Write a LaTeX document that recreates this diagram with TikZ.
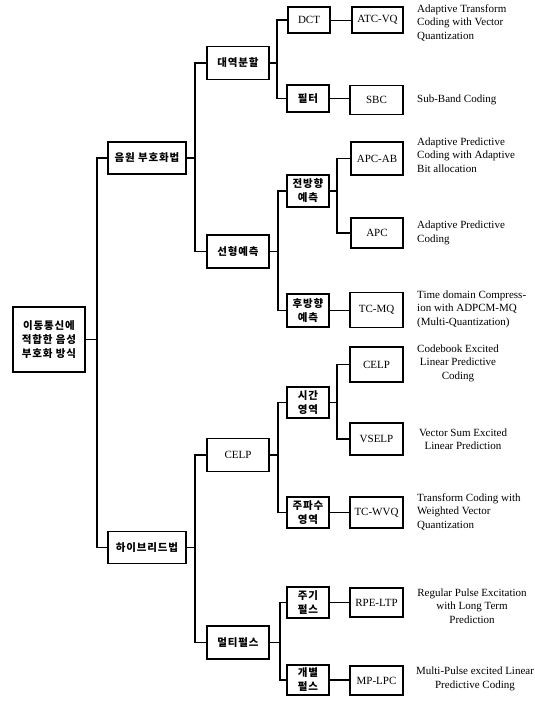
\documentclass[tikz,border=0pt]{standalone}
\usepackage{fontspec}
\setmainfont{Liberation Serif}
\newfontfamily\kr[LetterSpace=8]{Noto Sans CJK KR}
\newcommand\myfork[4]{%
  \coordinate (tmpspine) at (#4,0);
  \draw[conn] (#1.east) -- (#1.east -| tmpspine);
  \draw[conn] (#2.west) -- (#2.west -| tmpspine) -- (#3.west -| tmpspine) -- (#3.west);}
\begin{document}
\begin{tikzpicture}[x=1pt,y=-1pt,
  conn/.style={line width=1.2pt, line join=miter},
  bx/.style={draw, line width=1.3pt, inner sep=0pt, align=center, fill=white},
  kt/.style={font=\kr\bfseries\fontsize{10.5}{14}\selectfont},
  et/.style={font=\fontsize{11}{13.5}\selectfont},
  b0/.style={bx, kt, minimum width=72pt, minimum height=65pt},
  b1/.style={bx, kt, minimum width=78pt, minimum height=32pt},
  b2/.style={bx, minimum width=62pt, minimum height=33pt},
  b3/.style={bx, kt, minimum width=42pt, minimum height=#1},
  b3/.default=32pt,
  b4/.style={bx, et, minimum width=53pt, minimum height=#1},
  b4/.default=31pt,
  dl/.style={et, anchor=west, align=left, inner sep=0pt},
  dc/.style={et, anchor=center, align=center, inner sep=0pt}]
\useasboundingbox (0,0) rectangle (535,702);
\fill[white] (0,0) rectangle (535,702);
% level 0 and 1
\node[b0] (root) at (49,339.5) {이동통신에\\적합한 음성\\부호화 방식};
\node[b1] (wf) at (147,158) {음원 부호화법};
\node[b1] (hy) at (147,547.5) {하이브리드법};
% level 2
\node[b2, kt] (band) at (238,63) {대역분할};
\node[b2, kt] (lp) at (238,251.5) {선형예측};
\node[b2, et] (celpa) at (238,455) {CELP};
\node[b2, kt] (mp) at (238,642.5) {멀티펄스};
% level 3
\node[b3=26pt, et] (dct) at (309,20) {DCT};
\node[b3=27pt] (filt) at (308,98.5) {필터};
\node[b3] (fwd) at (308,191) {전방향\\예측};
\node[b3=33pt] (bwd) at (308,310.5) {후방향\\예측};
\node[b3=31pt] (time) at (308,402.5) {시간\\영역};
\node[b3=31pt] (freq) at (308,512.5) {주파수\\영역};
\node[b3=31pt] (per) at (308,602.5) {주기\\펄스};
\node[b3=30pt] (ind) at (308,680) {개별\\펄스};
% level 4
\node[b4=26pt, minimum width=51pt] (atc) at (377.5,20) {ATC-VQ};
\node[b4=29pt] (sbc) at (376.5,100) {SBC};
\node[b4=33pt, minimum width=52pt] (apcab) at (377,158.5) {APC-AB};
\node[b4=30pt, minimum width=52pt] (apc) at (377,233) {APC};
\node[b4=35pt] (tcmq) at (376.5,310) {TC-MQ};
\node[b4=35pt] (celpb) at (376.5,364.5) {CELP};
\node[b4=32pt] (vselp) at (376.5,439) {VSELP};
\node[b4=31pt] (tcwvq) at (376.5,512.5) {TC-WVQ};
\node[b4=29pt] (rpe) at (376.5,602.5) {RPE-LTP};
\node[b4=29pt] (mplpc) at (376.5,680.5) {MP-LPC};
% descriptions
\node[dl] (d1) at (417,23) {Adaptive Transform\\Coding with Vector\\Quantization};
\node[dl] (d2) at (417,100) {Sub-Band Coding};
\node[dl] (d3) at (417,155) {Adaptive Predictive\\Coding with Adaptive\\Bit allocation};
\node[dl] (d4) at (417,233) {Adaptive Predictive\\Coding};
\node[dl] (d5) at (417,309) {Time domain Compress-\\ion with ADPCM-MQ\\(Multi-Quantization)};
\node[dc] (d6) at (458,363) {Codebook Excited\\Linear Predictive\\Coding};
\node[dc] (d7) at (463,439) {Vector Sum Excited\\Linear Prediction};
\node[dl] (d8) at (417,512) {Transform Coding with\\Weighted Vector\\Quantization};
\node[dc] (d9) at (472,606) {Regular Pulse Excitation\\with Long Term\\Prediction};
\node[dc] (d10) at (475,679) {Multi-Pulse excited Linear\\Predictive Coding};
% connectors
\myfork{root}{wf}{hy}{97}
\myfork{wf}{band}{lp}{195}
\myfork{hy}{celpa}{mp}{195}
\myfork{band}{dct}{filt}{277}
\myfork{lp}{fwd}{bwd}{278}
\myfork{fwd}{apcab}{apc}{337}
\myfork{celpa}{time}{freq}{278}
\myfork{time}{celpb}{vselp}{337}
\myfork{mp}{per}{ind}{280}
\draw[conn, line width=0.8pt] (dct.east) -- (dct.east -| atc.west);
\draw[conn] (filt.east) -- (filt.east -| sbc.west);
\draw[conn] (bwd.east) -- (bwd.east -| tcmq.west);
\draw[conn] (freq.east) -- (freq.east -| tcwvq.west);
\draw[conn] (per.east) -- (per.east -| rpe.west);
\draw[conn] (ind.east) -- (ind.east -| mplpc.west);
\end{tikzpicture}
\end{document}
